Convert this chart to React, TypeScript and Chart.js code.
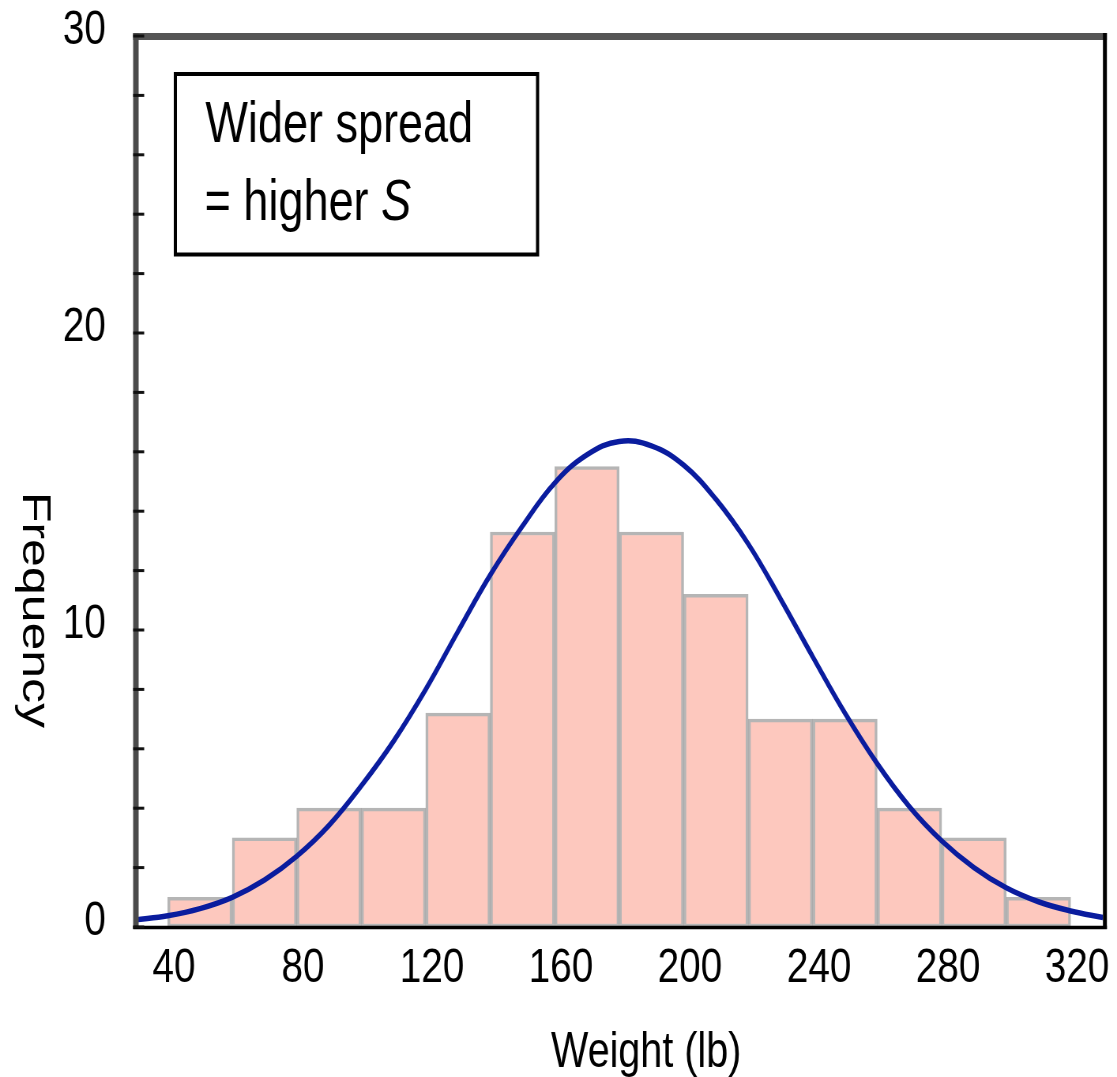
import { useEffect, useRef } from 'react';
import { Chart, registerables } from 'chart.js';

Chart.register(...registerables);

// ---- data ----
const BIN_STARTS = [40, 60, 80, 100, 120, 140, 160, 180, 200, 220, 240, 260, 280, 300];
const BIN_WIDTH = 20;
const FREQUENCIES = [1, 3, 4, 4, 7.2, 13.3, 15.5, 13.3, 11.2, 7, 7, 4, 3, 1];

const CURVE_X = [30, 40, 50, 60, 70, 80, 90, 100, 110, 120, 130, 140, 150, 160, 170, 180, 190, 200, 210, 220, 230, 240, 250, 260, 270, 280, 290, 300, 310, 320, 330];
const CURVE_Y = [0.24, 0.38, 0.62, 1.0, 1.58, 2.38, 3.42, 4.75, 6.25, 8.0, 9.95, 11.85, 13.5, 14.95, 15.9, 16.35, 16.2, 15.55, 14.4, 12.9, 11.05, 9.1, 7.2, 5.5, 4.05, 2.9, 2.0, 1.32, 0.85, 0.54, 0.32];

const X_TICKS = [40, 80, 120, 160, 200, 240, 280, 320];
const Y_TICKS = [0, 2, 4, 6, 8, 10, 12, 14, 16, 18, 20, 22, 24, 26, 28, 30];
const Y_LABELED = [0, 10, 20, 30];

const X_TITLE = 'Weight (lb)';
const Y_TITLE = 'Frequency';
const NOTE_LINE1 = 'Wider spread';
const NOTE_LINE2 = '= higher ';
const NOTE_ITALIC = 'S';

// ---- layout ----
const PAGE_W = 1117;
const PAGE_H = 1077;
const SX = 0.79; // horizontal squeeze of the reference
const CANVAS_W = Math.round(PAGE_W / SX);
const FAMILY = '"Liberation Sans", Arial, Helvetica, sans-serif';

const decorPlugin = {
  id: 'decor',
  afterDraw(chart: any) {
    const { ctx, chartArea: a } = chart;
    const ys = chart.scales.y;
    ctx.save();

    const seg = (x1: number, y1: number, x2: number, y2: number) => {
      ctx.beginPath();
      ctx.moveTo(x1, y1);
      ctx.lineTo(x2, y2);
      ctx.stroke();
    };

    // frame
    ctx.lineCap = 'butt';
    ctx.strokeStyle = '#555';
    ctx.lineWidth = 7;
    seg(a.left - 3, a.top + 0.5, a.right + 5, a.top + 0.5);
    ctx.strokeStyle = '#4a4a4a';
    seg(a.left + 0.5, a.top - 3, a.left + 0.5, a.bottom + 2);
    ctx.strokeStyle = '#000';
    ctx.lineWidth = 5;
    seg(a.right + 2.5, a.top - 3, a.right + 2.5, a.bottom + 2);
    ctx.lineWidth = 3.5;
    seg(a.left - 3, a.bottom + 0.5, a.right + 5, a.bottom + 0.5);

    // inward y tick marks
    ctx.strokeStyle = '#111';
    ctx.lineWidth = 3;
    for (const v of Y_TICKS) {
      const py = ys.getPixelForValue(v);
      seg(a.left - 3, py, a.left + 11, py);
    }

    // note box
    ctx.strokeStyle = '#000';
    ctx.lineWidth = 4;
    ctx.strokeRect(222, 74, 458.5, 180.5);
    ctx.fillStyle = '#000';
    ctx.textAlign = 'left';
    ctx.textBaseline = 'alphabetic';
    ctx.font = `57px ${FAMILY}`;
    ctx.fillText(NOTE_LINE1, 260, 142);
    ctx.fillText(NOTE_LINE2, 259, 220);
    const w2 = ctx.measureText(NOTE_LINE2).width;
    ctx.font = `italic 57px ${FAMILY}`;
    ctx.fillText(NOTE_ITALIC, 259 + w2, 220);

    // axis titles
    ctx.font = `50px ${FAMILY}`;
    ctx.textAlign = 'center';
    ctx.fillText(X_TITLE, 818, 1067);
    ctx.translate(29, 610);
    ctx.rotate(Math.PI / 2);
    ctx.fillText(Y_TITLE, 0, 0);

    ctx.restore();
  },
};

export default function App() {
  const ref = useRef<HTMLCanvasElement>(null);

  useEffect(() => {
    document.body.style.margin = '0';
    document.body.style.overflow = 'hidden';
    const canvas = ref.current;
    if (!canvas) return;

    const chart = new Chart(canvas, {
      type: 'bar',
      data: {
        datasets: [
          {
            type: 'line',
            data: CURVE_X.map((x, i) => ({ x, y: CURVE_Y[i] })),
            borderColor: '#0a1c9e',
            borderWidth: 5.5,
            pointRadius: 0,
            fill: false,
            tension: 0.4,
            order: 0,
          } as any,
          {
            type: 'bar',
            data: BIN_STARTS.map((s, i) => ({ x: s + BIN_WIDTH / 2, y: FREQUENCIES[i] })),
            backgroundColor: '#fdc8be',
            borderColor: 'rgba(120,120,120,0.55)',
            borderWidth: 3.5,
            borderSkipped: false,
            barPercentage: 1,
            categoryPercentage: 1,
            order: 1,
          } as any,
        ],
      },
      options: {
        responsive: false,
        maintainAspectRatio: false,
        devicePixelRatio: 1,
        animation: false,
        layout: { padding: { top: 36, right: CANVAS_W - 1396.2, bottom: 0, left: 0 } },
        plugins: { legend: { display: false }, tooltip: { enabled: false } },
        scales: {
          x: {
            type: 'linear',
            min: 30,
            max: 330,
            offset: false,
            grid: { display: false, drawTicks: false },
            border: { display: false },
            afterBuildTicks: (s: any) => {
              s.ticks = X_TICKS.map((v) => ({ value: v }));
            },
            afterFit: (s: any) => {
              s.height = 150;
              s.paddingLeft = 0;
              s.paddingRight = 0;
            },
            ticks: {
              autoSkip: false,
              maxRotation: 0,
              minRotation: 0,
              padding: 12,
              labelOffset: 8,
              color: '#000',
              font: { family: FAMILY, size: 49 },
              callback: (v: any) => String(v),
            },
          },
          y: {
            type: 'linear',
            min: 0,
            max: 30,
            grid: { display: false, drawTicks: false },
            border: { display: false },
            afterBuildTicks: (s: any) => {
              s.ticks = Y_TICKS.map((v) => ({ value: v }));
            },
            afterFit: (s: any) => {
              s.width = 171.5;
              s.paddingTop = 0;
              s.paddingBottom = 0;
            },
            ticks: {
              autoSkip: false,
              padding: 37.5,
              labelOffset: -6,
              color: '#000',
              font: { family: FAMILY, size: 49 },
              callback: (v: any) => (Y_LABELED.includes(Number(v)) ? String(v) : ''),
            },
          },
        },
      } as any,
      plugins: [decorPlugin],
    });

    return () => chart.destroy();
  }, []);

  return (
    <canvas
      ref={ref}
      width={CANVAS_W}
      height={PAGE_H}
      style={{ display: 'block', width: `${PAGE_W}px`, height: `${PAGE_H}px` }}
    />
  );
}
